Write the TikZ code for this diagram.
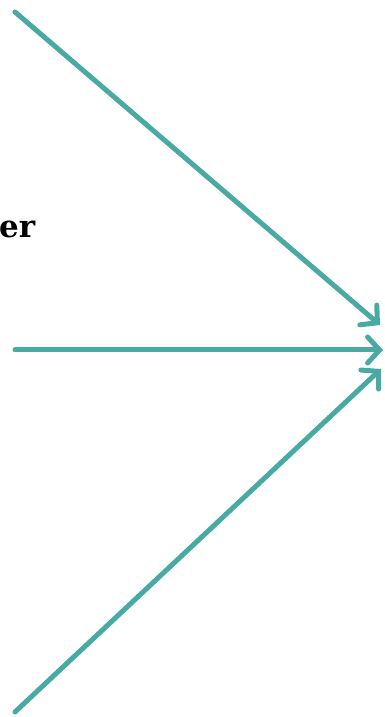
\documentclass[tikz,border=0pt]{standalone}
\usepackage{fontspec}
\setmainfont{DejaVu Serif}
\usepackage{tikz}
\usetikzlibrary{arrows.meta}
\definecolor{tealline}{RGB}{72,170,162}

\begin{document}
\begin{tikzpicture}[x=1pt,y=1pt,
    arrowline/.style={tealline, line width=5pt, line cap=round,
        -{Straight Barb[length=12pt,width=26pt,line cap=round]}}]
    \useasboundingbox (0,0) rectangle (385,717);
    \coordinate (topstart) at (15,705);
    \coordinate (midstart) at (15,367);
    \coordinate (botstart) at (15,5);
    \coordinate (toptip) at (380,392);
    \coordinate (midtip) at (383,367);
    \coordinate (bottip) at (381,348);
    \draw[arrowline] (topstart) -- (toptip);
    \draw[arrowline] (midstart) -- (midtip);
    \draw[arrowline] (botstart) -- (bottip);
    \node[anchor=base west, inner sep=0pt, font=\bfseries\fontsize{31}{36}\selectfont] (word) at (-1,479) {er};
\end{tikzpicture}
\end{document}
